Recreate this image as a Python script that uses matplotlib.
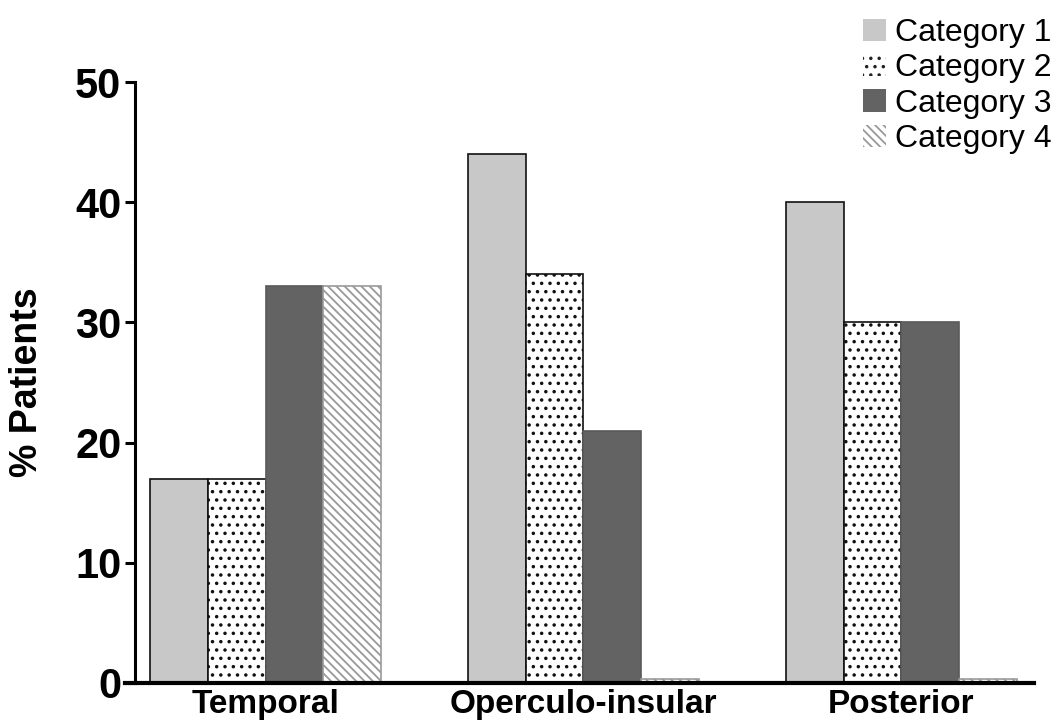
import numpy as np
import matplotlib.pyplot as plt
from matplotlib.patches import Patch

# ---- données ----
regions = ["Temporal", "Operculo-insular", "Posterior"]
categories = ["Category 1", "Category 2", "Category 3", "Category 4"]
cat1 = [17, 44, 40]
cat2 = [17, 34, 30]
cat3 = [33, 21, 30]
cat4 = [33, 0.3, 0.3]
series = [cat1, cat2, cat3, cat4]
yticks = [0, 10, 20, 30, 40, 50]

# ---- styles ----
faces = ["#c8c8c8", "white", "#636363", "white"]
edges = ["#111111", "#111111", "#5a5a5a", "#999999"]
hatches = [None, "..", None, "\\\\\\\\"]

plt.rcParams["font.family"] = ["Liberation Sans", "DejaVu Sans"]
plt.rcParams["hatch.linewidth"] = 1.3

fig = plt.figure(figsize=(10.56, 7.25), dpi=100)
ax = fig.add_axes([125 / 1056, 42 / 725, 909 / 1056, 601 / 725])

x = np.arange(len(regions))
w = 0.1817
for i, vals in enumerate(series):
    ax.bar(x + (i - 1.5) * w, vals, width=w, color=faces[i], edgecolor=edges[i],
           hatch=hatches[i], linewidth=1.2, zorder=2)

# axes (position des spines d'abord : set_position remet les ticks à zéro)
ax.spines["top"].set_visible(False)
ax.spines["right"].set_visible(False)
ax.spines["left"].set_position(("data", -0.410))
ax.spines["left"].set_linewidth(2.2)
ax.spines["bottom"].set_linewidth(3)
ax.spines["bottom"].set_zorder(3)

ax.set_xlim(-0.442, 2.417)
ax.set_ylim(0, 50)
ax.set_yticks(yticks)
ax.set_xticks(x)
ax.set_xticklabels(regions)
ax.tick_params(axis="x", length=0, pad=4, labelsize=24)
ax.tick_params(axis="y", direction="out", length=7, width=2.2, pad=3, labelsize=30)
plt.setp(ax.get_xticklabels() + ax.get_yticklabels(), fontweight="bold")

ax.set_ylabel("% Patients", fontsize=27, fontweight="bold")
ax.yaxis.set_label_coords(-0.088, 0.5)

handles = [Patch(facecolor=faces[0], edgecolor="white", linewidth=0),
           Patch(facecolor="white", edgecolor="#222222", hatch="..", linewidth=0),
           Patch(facecolor=faces[2], edgecolor="white", linewidth=0),
           Patch(facecolor="white", edgecolor=edges[3], hatch=hatches[3], linewidth=0)]
fig.legend(handles, categories, loc="upper right",
           bbox_to_anchor=(1052 / 1056, 1 - 18 / 725), frameon=False,
           fontsize=23, labelspacing=0.17, handlelength=0.7, handleheight=0.7,
           handletextpad=0.3, borderpad=0, borderaxespad=0)

fig.savefig("out.png", dpi=100)
